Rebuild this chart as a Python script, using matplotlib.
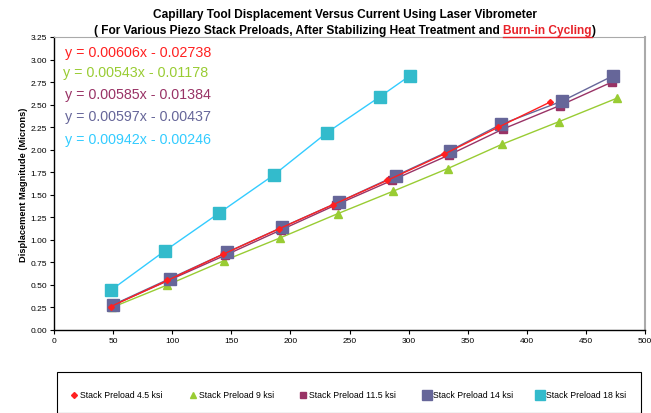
import matplotlib
matplotlib.use("Agg")
import matplotlib.pyplot as plt
from matplotlib.patches import Rectangle
from matplotlib.lines import Line2D

plt.rcParams['font.family'] = ['Liberation Sans', 'DejaVu Sans']

# ---- data ----
x_45 = [48, 96, 143, 190, 236, 282, 330, 376, 420]
y_45 = [0.26, 0.55, 0.84, 1.12, 1.39, 1.66, 1.95, 2.25, 2.53]

x_9 = [49, 96, 144, 191, 240, 287, 333, 379, 427, 476]
y_9 = [0.25, 0.50, 0.77, 1.02, 1.29, 1.54, 1.79, 2.06, 2.31, 2.57]

x_115 = [49, 97, 145, 192, 239, 286, 334, 380, 428, 472]
y_115 = [0.27, 0.55, 0.83, 1.11, 1.39, 1.66, 1.94, 2.23, 2.49, 2.75]

x_14 = [50, 98, 146, 193, 241, 289, 335, 378, 430, 473]
y_14 = [0.28, 0.57, 0.86, 1.14, 1.42, 1.71, 1.99, 2.28, 2.54, 2.82]

x_18 = [48, 94, 140, 186, 231, 276, 301]
y_18 = [0.44, 0.88, 1.30, 1.72, 2.19, 2.59, 2.82]

labels = ["Stack Preload 4.5 ksi", "Stack Preload 9 ksi", "Stack Preload 11.5 ksi",
          "Stack Preload 14 ksi", "Stack Preload 18 ksi"]
equations = ["y = 0.00606x - 0.02738", "y = 0.00543x - 0.01178", "y = 0.00585x - 0.01384",
             "y = 0.00597x - 0.00437", "y = 0.00942x - 0.00246"]
eq_colors = ["#FF2020", "#99CC33", "#993366", "#666699", "#33CCFF"]

W, H = 651, 414
fig = plt.figure(figsize=(W / 100, H / 100), dpi=100)
ax = fig.add_axes([54 / W, 1 - 331 / H, (645 - 54) / W, (331 - 38) / H])

ax.plot(x_45, y_45, color="#FF2020", lw=1.0, marker="D", ms=3, mec="#FF2020", mfc="#FF2020", zorder=6)
ax.plot(x_9, y_9, color="#99CC33", lw=1.0, marker="^", ms=6, mec="#99CC33", mfc="#99CC33", zorder=3)
ax.plot(x_115, y_115, color="#993366", lw=1.0, marker="s", ms=6, mec="#993366", mfc="#993366", zorder=4)
ax.plot(x_14, y_14, color="#666699", lw=1.0, marker="s", ms=8, mec="#666699", mfc="#666699", zorder=5)
ax.plot(x_18, y_18, color="#33CCFF", lw=1.0, marker="s", ms=8, mec="#33BBCC", mfc="#33BBCC", zorder=5)

ax.set_xlim(0, 500)
ax.set_ylim(0, 3.25)
ax.set_xticks(range(0, 501, 50))
ax.set_yticks([i * 0.25 for i in range(14)])
ax.set_yticklabels([f"{i * 0.25:.2f}" for i in range(14)])
ax.tick_params(labelsize=6, length=3, width=0.8, direction="out", pad=2)
for s in ["left", "bottom"]:
    ax.spines[s].set_color("black")
    ax.spines[s].set_linewidth(1.0)
ax.spines["top"].set_color("#AAAAAA")
ax.spines["right"].set_color("#AAAAAA")
ax.spines["right"].set_linewidth(1.5)
ax.set_ylabel("Displacement Magnitude (Microns)", fontsize=6.7, fontweight="bold", labelpad=1.5)

# trendline equations
eq_y = [53, 73, 95, 117, 140]
eq_x = [65, 63, 65, 65, 65]
for t, c, xx, yy in zip(equations, eq_colors, eq_x, eq_y):
    fig.text(xx / W, 1 - yy / H, t, color=c, fontsize=10.3, va="center", ha="left")

# title
TFS = 8.6
TCX = 345
fig.text(TCX / W, 1 - 15 / H,
         "Capillary Tool Displacement Versus Current Using Laser Vibrometer",
         fontsize=TFS, fontweight="bold", ha="center", va="center")
fig.canvas.draw()
r = fig.canvas.get_renderer()
parts = [("( For Various Piezo Stack Preloads, After Stabilizing Heat Treatment and ", "black"),
         ("Burn-in Cycling", "#E8232A"), (")", "black")]
tmp = [fig.text(0, 0, p, fontsize=TFS, fontweight="bold") for p, _ in parts]
widths = [t.get_window_extent(r).width for t in tmp]
for t in tmp:
    t.remove()
total = sum(widths)
x0 = TCX - total / 2
yline = 1 - 31 / H
for (p, c), w in zip(parts, widths):
    fig.text(x0 / W, yline, p, fontsize=TFS, fontweight="bold", color=c, ha="left", va="center")
    if c != "black":
        fig.add_artist(Line2D([x0 / W, (x0 + w) / W], [1 - 37.5 / H, 1 - 37.5 / H],
                              color=c, lw=1.0, transform=fig.transFigure))
    x0 += w

# legend box
fig.add_artist(Rectangle((57 / W, 1 - 414 / H), (641 - 57) / W, (414 - 373) / H,
                         transform=fig.transFigure, fill=False, ec="black", lw=0.8))
leg_marker = ["D", "^", "s", "s", "s"]
leg_ms = [3, 5, 5, 7, 7]
leg_col = ["#FF2020", "#99CC33", "#993366", "#666699", "#33BBCC"]
leg_x = [74, 193, 303, 427, 540]
for m, ms, c, lab, lx in zip(leg_marker, leg_ms, leg_col, labels, leg_x):
    fig.add_artist(Line2D([lx / W], [1 - 396 / H], ls="none", marker=m,
                          ms=ms, color=c, transform=fig.transFigure))
    fig.text((lx + 6) / W, 1 - 396 / H, lab, fontsize=6.3, va="center", ha="left")

fig.savefig("out.png", dpi=100)
